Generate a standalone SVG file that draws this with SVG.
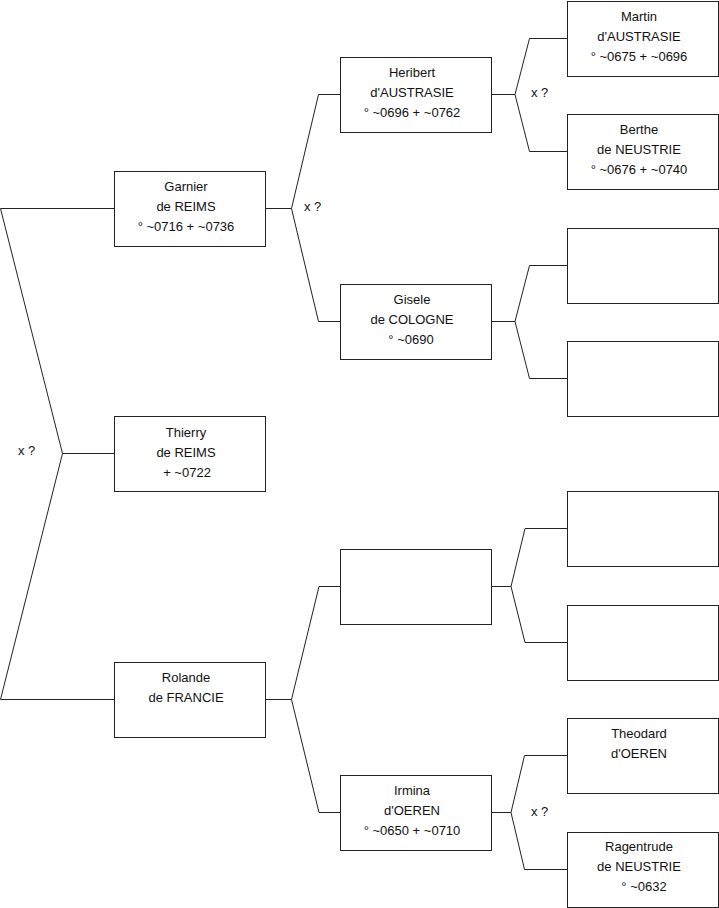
<svg xmlns="http://www.w3.org/2000/svg" width="719" height="908" viewBox="0 0 719 908">
<style>
.box{fill:#fff;stroke:#222;stroke-width:1}
.c{fill:none;stroke:#222;stroke-width:1}
text{font-family:"Liberation Sans",Arial,sans-serif;font-size:13px;fill:#111}
.n text{text-anchor:middle}
</style>
<rect width="719" height="908" fill="#fff"/>
<g id="connectors">
<path class="c" d="M0.5,208.5H114.5M0.5,208.5L62.5,453.5L0.5,699.5H114.5M62.5,453.5H114.5"/>
<path class="c" d="M265.5,208.5H291.5L318.5,94.5H340.5M291.5,208.5L318.5,321.5H340.5"/>
<path class="c" d="M491.5,94.5H515L529.5,38.5H567.5M515,94.5L529.5,151.5H567.5"/>
<path class="c" d="M491.5,321.5H515L529.5,265.5H567.5M515,321.5L529.5,378.5H567.5"/>
<path class="c" d="M491.5,586.5H511L525,528.5H567.5M511,586.5L525,642.5H567.5"/>
<path class="c" d="M265.5,699.5H291.5L319,586.5H340.5M291.5,699.5L319,812.5H340.5"/>
<path class="c" d="M491.5,812.5H511L524.5,755.5H567.5M511,812.5L524.5,869.5H567.5"/>
<text x="18" y="455">x ?</text>
<text x="304" y="211">x ?</text>
<text x="531" y="97">x ?</text>
<text x="531" y="816">x ?</text>
</g>
<g id="garnier" class="n"><rect class="box" x="114.5" y="171.5" width="151" height="75"/>
<text x="186" y="191">Garnier</text><text x="186" y="211">de REIMS</text><text x="186" y="231">° ~0716 + ~0736</text></g>
<g id="thierry" class="n"><rect class="box" x="114.5" y="416.5" width="151" height="75"/>
<text x="186" y="437">Thierry</text><text x="186" y="457">de REIMS</text><text x="187" y="477">+ ~0722</text></g>
<g id="rolande" class="n"><rect class="box" x="114.5" y="662.5" width="151" height="75"/>
<text x="186" y="682">Rolande</text><text x="186" y="702">de FRANCIE</text></g>
<g id="heribert" class="n"><rect class="box" x="340.5" y="57.5" width="151" height="75"/>
<text x="412" y="77">Heribert</text><text x="412" y="97">d'AUSTRASIE</text><text x="412" y="117">° ~0696 + ~0762</text></g>
<g id="gisele" class="n"><rect class="box" x="340.5" y="284.5" width="151" height="75"/>
<text x="412" y="304">Gisele</text><text x="412" y="324">de COLOGNE</text><text x="411" y="344">° ~0690</text></g>
<g id="empty-mid" class="n"><rect class="box" x="340.5" y="549.5" width="151" height="75"/></g>
<g id="irmina" class="n"><rect class="box" x="340.5" y="775.5" width="151" height="75"/>
<text x="412" y="795">Irmina</text><text x="412" y="815">d'OEREN</text><text x="412" y="835">° ~0650 + ~0710</text></g>
<g id="martin" class="n"><rect class="box" x="567.5" y="1.5" width="151" height="75"/>
<text x="639" y="21">Martin</text><text x="639" y="41">d'AUSTRASIE</text><text x="639" y="61">° ~0675 + ~0696</text></g>
<g id="berthe" class="n"><rect class="box" x="567.5" y="114.5" width="151" height="75"/>
<text x="639" y="134">Berthe</text><text x="639" y="154">de NEUSTRIE</text><text x="639" y="174">° ~0676 + ~0740</text></g>
<g id="empty-r1" class="n"><rect class="box" x="567.5" y="228.5" width="151" height="75"/></g>
<g id="empty-r2" class="n"><rect class="box" x="567.5" y="341.5" width="151" height="75"/></g>
<g id="empty-r3" class="n"><rect class="box" x="567.5" y="491.5" width="151" height="75"/></g>
<g id="empty-r4" class="n"><rect class="box" x="567.5" y="605.5" width="151" height="75"/></g>
<g id="theodard" class="n"><rect class="box" x="567.5" y="718.5" width="151" height="75"/>
<text x="639" y="738">Theodard</text><text x="639" y="758">d'OEREN</text></g>
<g id="ragentrude" class="n"><rect class="box" x="567.5" y="832.5" width="151" height="75"/>
<text x="639" y="851">Ragentrude</text><text x="639" y="871">de NEUSTRIE</text><text x="644" y="891">° ~0632</text></g>
</svg>
